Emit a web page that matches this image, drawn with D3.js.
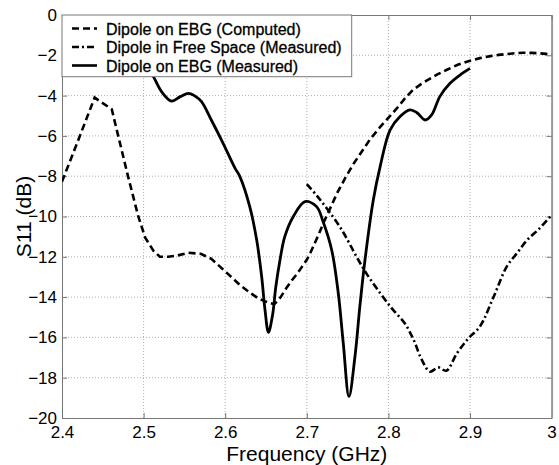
<!DOCTYPE html>
<html>
<head>
<meta charset="utf-8">
<script src="https://cdn.jsdelivr.net/npm/d3@7"></script>
<style>
  body { margin: 0; background: #fff; }
  svg { display: block; font-family: "Liberation Sans", Arial, sans-serif; }
</style>
</head>
<body>
<script>
"use strict";

// Frequency ticks (GHz) and S11 ticks (dB)
const xTicks = [2.4, 2.5, 2.6, 2.7, 2.8, 2.9, 3.0];
const yTicks = [0, -2, -4, -6, -8, -10, -12, -14, -16, -18, -20];

// Dipole on EBG (Computed): [freq, dB]
const computed = [
    [2.400, -8.27], [2.420, -6.2], [2.440, -4.1], [2.461, -4.68], [2.481, -8.02],
    [2.4935, -10.0], [2.502, -11.05], [2.512, -11.7], [2.520, -12.0], [2.530, -12.0],
    [2.540, -11.95], [2.555, -11.8], [2.570, -11.85], [2.583, -12.1], [2.594, -12.5],
    [2.602, -12.8], [2.610, -13.1], [2.618, -13.4], [2.626, -13.65], [2.633, -13.85],
    [2.640, -14.05], [2.648, -14.2], [2.655, -14.3], [2.660, -14.35], [2.664, -14.2],
    [2.668, -14.0], [2.675, -13.55], [2.682, -13.15], [2.688, -12.85], [2.694, -12.5],
    [2.700, -12.15], [2.705, -11.75], [2.710, -11.3], [2.715, -10.85], [2.720, -10.35],
    [2.728, -9.65], [2.737, -8.85], [2.747, -8.1], [2.757, -7.4], [2.767, -6.8],
    [2.777, -6.2], [2.790, -5.55], [2.800, -5.1], [2.810, -4.65], [2.820, -4.15],
    [2.830, -3.72], [2.840, -3.43], [2.850, -3.18], [2.860, -2.95], [2.871, -2.73],
    [2.885, -2.47], [2.900, -2.27], [2.912, -2.14], [2.925, -2.04], [2.935, -1.98],
    [2.945, -1.94], [2.955, -1.9], [2.965, -1.87], [2.975, -1.88], [2.985, -1.9],
    [2.993, -1.93], [3.000, -1.97]
];

// Dipole in Free Space (Measured)
const freeSpace = [
    [2.700, -8.39], [2.713, -9.0], [2.726, -9.68], [2.743, -10.67], [2.761, -12.0],
    [2.773, -12.82], [2.790, -13.81], [2.805, -14.6], [2.820, -15.3], [2.831, -16.13],
    [2.841, -17.12], [2.851, -17.7], [2.861, -17.49], [2.871, -17.65], [2.884, -16.79],
    [2.898, -16.05], [2.912, -15.47], [2.929, -13.98], [2.945, -12.49], [2.958, -11.8],
    [2.970, -11.17], [2.985, -10.6], [3.000, -9.93]
];

// Dipole on EBG (Measured)
const measured = [
    [2.500, -2.3], [2.512, -3.06], [2.522, -3.8], [2.534, -4.27], [2.545, -4.05],
    [2.555, -3.89], [2.564, -4.05], [2.571, -4.3], [2.583, -5.21], [2.597, -6.33],
    [2.612, -7.6], [2.618, -8.02], [2.630, -9.5], [2.6386, -11.17], [2.6447, -12.99],
    [2.6488, -14.64], [2.653, -15.75], [2.658, -14.9], [2.662, -13.5], [2.667, -12.2],
    [2.673, -11.0], [2.6835, -10.0], [2.6978, -9.26], [2.712, -9.51], [2.720, -10.26],
    [2.7305, -11.66], [2.7386, -13.81], [2.7447, -16.29], [2.7517, -18.94], [2.759, -16.96],
    [2.765, -14.47], [2.7713, -12.16], [2.7815, -9.18], [2.790, -7.5], [2.802, -5.71],
    [2.814, -5.05], [2.8265, -4.71], [2.835, -4.85], [2.845, -5.21], [2.853, -4.96],
    [2.863, -4.05], [2.8755, -3.39], [2.8877, -2.98], [2.900, -2.65]
];

const legendLabels = ["Dipole on EBG (Computed)", "Dipole in Free Space (Measured)", "Dipole on EBG (Measured)"];

const width = 559, height = 465;
const mLeft = 62, mRight = 551.6, mTop = 15, mBottom = 418;

const x = d3.scaleLinear([2.4, 3.0], [mLeft, mRight]);
const y = d3.scaleLinear([-20, 0], [mBottom, mTop]);

const svg = d3.select("body").append("svg")
    .attr("width", width)
    .attr("height", height)
    .attr("viewBox", [0, 0, width, height]);

svg.append("defs").append("clipPath")
    .attr("id", "plotclip")
    .append("rect")
    .attr("x", mLeft).attr("y", mTop)
    .attr("width", mRight - mLeft).attr("height", mBottom - mTop);

// grid
const grid = svg.append("g")
    .attr("stroke", "#9a9a9a")
    .attr("stroke-width", 0.8)
    .attr("stroke-dasharray", "1,2");
grid.selectAll(".gx")
    .data(xTicks.slice(1, -1))
    .join("line")
    .attr("x1", d => x(d)).attr("x2", d => x(d))
    .attr("y1", mTop).attr("y2", mBottom);
grid.selectAll(".gy")
    .data(yTicks.slice(1, -1))
    .join("line")
    .attr("x1", mLeft).attr("x2", mRight)
    .attr("y1", d => y(d)).attr("y2", d => y(d));

// axes
svg.append("g")
    .attr("transform", `translate(0,${mBottom})`)
    .call(d3.axisBottom(x).tickValues(xTicks).tickSizeInner(-5).tickSizeOuter(0).tickPadding(8)
        .tickFormat(d => d === 3 ? "3" : d3.format(".1f")(d)))
    .call(g => g.select(".domain").attr("stroke", "#777"))
    .call(g => g.selectAll(".tick line").attr("stroke", "#777"))
    .call(g => g.selectAll(".tick text").attr("font-size", 17).attr("fill", "#000"));

svg.append("g")
    .attr("transform", `translate(${mLeft},0)`)
    .call(d3.axisLeft(y).tickValues(yTicks).tickSizeInner(-5).tickSizeOuter(0).tickPadding(5))
    .call(g => g.select(".domain").attr("stroke", "#777"))
    .call(g => g.selectAll(".tick line").attr("stroke", "#777"))
    .call(g => g.selectAll(".tick text").attr("font-size", 17).attr("fill", "#000"));

// right ticks and top ticks
svg.append("g")
    .attr("transform", `translate(${mRight},0)`)
    .call(d3.axisRight(y).tickValues(yTicks).tickSizeInner(-5).tickSizeOuter(0).tickFormat(""))
    .call(g => g.select(".domain").attr("stroke", "#999").attr("stroke-width", 2))
    .call(g => g.selectAll(".tick line").attr("stroke", "#777"));
svg.append("g")
    .attr("transform", `translate(0,${mTop})`)
    .call(d3.axisTop(x).tickValues(xTicks).tickSizeInner(-5).tickSizeOuter(0).tickFormat(""))
    .call(g => g.select(".domain").attr("stroke", "#777"))
    .call(g => g.selectAll(".tick line").attr("stroke", "#777"));

// curves
const lineLin = d3.line().x(d => x(d[0])).y(d => y(d[1]));
const lineSmooth = d3.line().x(d => x(d[0])).y(d => y(d[1])).curve(d3.curveCatmullRom.alpha(0.5));

const curves = svg.append("g").attr("clip-path", "url(#plotclip)")
    .attr("fill", "none").attr("stroke", "#000").attr("stroke-width", 2.6);

curves.append("path").attr("d", lineLin(computed)).attr("stroke-dasharray", "7,4");
curves.append("path").attr("d", lineSmooth(freeSpace)).attr("stroke-dasharray", "7,3,2,3");
curves.append("path").attr("d", lineSmooth(measured)).attr("stroke-width", 2.8);

// legend
const legend = svg.append("g");
legend.append("rect")
    .attr("x", mLeft).attr("y", mTop)
    .attr("width", 351.7 - mLeft).attr("height", 76.7 - mTop)
    .attr("fill", "#fff").attr("stroke", "#777");
const dashes = ["7,4", "7,3,2,3", null];
legendLabels.forEach((label, i) => {
    const cy = 28.5 + i * 18.5;
    legend.append("line")
        .attr("x1", 72).attr("x2", 97)
        .attr("y1", cy).attr("y2", cy)
        .attr("stroke", "#000").attr("stroke-width", 2.6)
        .attr("stroke-dasharray", dashes[i]);
    legend.append("text")
        .attr("x", 106).attr("y", cy + 6)
        .attr("font-size", 16)
        .attr("stroke", "#000").attr("stroke-width", 0.3)
        .text(label);
});

// axis labels
svg.append("text")
    .attr("x", (mLeft + mRight) / 2).attr("y", 461)
    .attr("text-anchor", "middle")
    .attr("font-size", 21)
    .text("Frequency (GHz)");

svg.append("text")
    .attr("transform", `translate(31,${(mTop + mBottom) / 2}) rotate(-90)`)
    .attr("text-anchor", "middle")
    .attr("font-size", 21)
    .text("S11 (dB)");
</script>
</body>
</html>
